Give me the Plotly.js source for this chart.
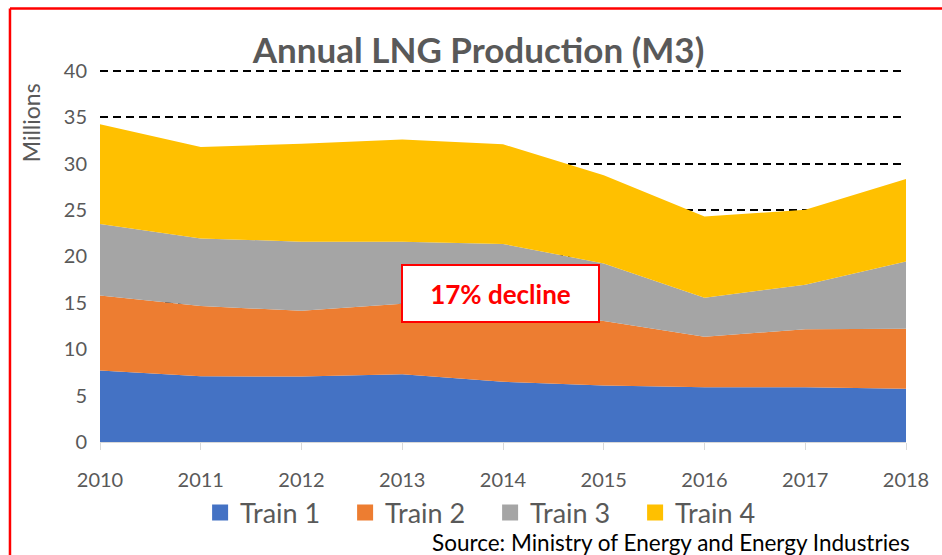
<!DOCTYPE html>
<html>
<head>
<meta charset="utf-8">
<script src="https://cdn.plot.ly/plotly-3.0.1.min.js"></script>
<style>
html,body{margin:0;padding:0;background:#fff;}
#chart{width:942px;height:555px;}
</style>
</head>
<body>
<div id="chart"></div>
<script>
const years = [2010, 2011, 2012, 2013, 2014, 2015, 2016, 2017, 2018];
const train1 = [7.7, 7.1, 7.05, 7.3, 6.5, 6.1, 5.9, 5.9, 5.75];
const train2 = [8.1, 7.55, 7.1, 7.6, 7.5, 6.95, 5.45, 6.25, 6.45];
const train3 = [7.7, 7.3, 7.45, 6.7, 7.35, 6.2, 4.2, 4.8, 7.25];
const train4 = [10.75, 9.85, 10.55, 11.0, 10.75, 9.5, 8.75, 8.1, 8.9];
const seriesNames = ["Train 1", "Train 2", "Train 3", "Train 4"];
const seriesColors = ["#4472C4", "#ED7D31", "#A5A5A5", "#FFC000"];
const seriesValues = [train1, train2, train3, train4];
const yTicks = [0, 5, 10, 15, 20, 25, 30, 35, 40];

const FONT = "Lato, 'Open Sans', sans-serif";
const GREY = "#595959";

const traces = [];
seriesValues.forEach((vals, i) => {
  traces.push({
    type: "scatter", x: years, y: vals, name: seriesNames[i],
    stackgroup: "one", mode: "none", fillcolor: seriesColors[i],
    showlegend: false, hoverinfo: "skip"
  });
});
seriesValues.forEach((vals, i) => {
  traces.push({
    type: "scatter", x: [null], y: [null], name: seriesNames[i],
    mode: "markers", marker: {symbol: "square", size: 16, color: seriesColors[i]},
    showlegend: true
  });
});

// plot area: 0 at y=442px, 40 at y=71px
const layout = {
  width: 942, height: 555,
  margin: {l: 100, r: 36, t: 68, b: 113},
  paper_bgcolor: "#fff", plot_bgcolor: "#fff",
  font: {family: FONT, color: GREY},
  title: {text: "<b>Annual LNG Production (M3)</b>", font: {family: FONT, size: 35, color: GREY},
          x: 0.508, xanchor: "center", y: 0.908, yanchor: "middle"},
  xaxis: {
    type: "linear", range: [2010, 2018], tickvals: years, ticktext: years.map(String),
    showgrid: false, zeroline: false,
    showline: true, linecolor: "#D9D9D9", linewidth: 1,
    ticks: "outside", ticklen: 7, tickcolor: "#D9D9D9", tickwidth: 1,
    tickfont: {family: FONT, size: 20, color: GREY}, ticklabelstandoff: 13
  },
  yaxis: {
    range: [0, 40.32], tickvals: yTicks, ticktext: yTicks.map(String),
    showgrid: true, gridcolor: "#000", gridwidth: 2, griddash: "8px,5px",
    zeroline: false, showline: false, ticks: "",
    tickfont: {family: FONT, size: 20, color: GREY}, ticklabelstandoff: 12
  },
  showlegend: true,
  legend: {orientation: "h", x: 0.484, xanchor: "center", y: -0.19, yanchor: "middle",
           font: {family: FONT, size: 27, color: GREY}, itemsizing: "trace",
           traceorder: "normal", entrywidth: 100, entrywidthmode: "pixels",
           tracegroupgap: 0, itemwidth: 30},
  annotations: [
    {text: "Millions", xref: "paper", yref: "paper", x: -0.086, xanchor: "center",
     y: 0.854, yanchor: "middle", textangle: -90,
     showarrow: false, font: {family: FONT, size: 23, color: GREY}},
    {text: "<b>17% decline</b>", xref: "x", yref: "y", x: 2013.98, y: 16.05,
     showarrow: false, font: {family: FONT, size: 26, color: "#FF0000"},
     bgcolor: "#fff", bordercolor: "#FF0000", borderwidth: 2, borderpad: 1,
     width: 193, height: 53},
    {text: "Source: Ministry of Energy and Energy Industries", xref: "paper", yref: "paper",
     x: 1.008, xanchor: "right", y: -0.27, yanchor: "middle", showarrow: false,
     font: {family: FONT, size: 22.5, color: "#000"}}
  ],
  shapes: [
    {type: "line", xref: "paper", yref: "paper", x0: -0.1117, x1: 1.05, y0: 1.159, y1: 1.159,
     line: {color: "#FF0000", width: 2.5}},
    {type: "line", xref: "paper", yref: "paper", x0: -0.1117, x1: -0.1117, y0: 1.159, y1: -0.31,
     line: {color: "#FF0000", width: 2.5}}
  ]
};

Plotly.newPlot("chart", traces, layout, {displayModeBar: false, staticPlot: true});
</script>
</body>
</html>
